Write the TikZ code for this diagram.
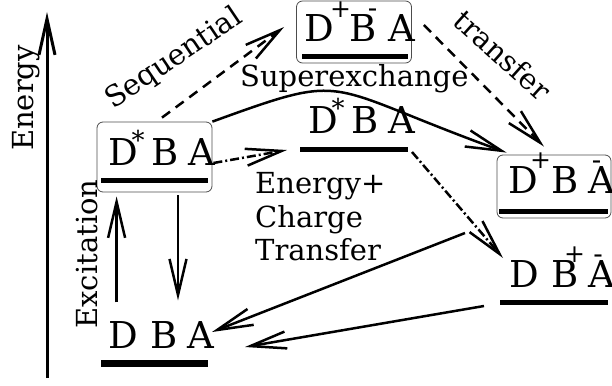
\documentclass[tikz,border=0pt]{standalone}
\usepackage{fontspec}
\setmainfont{DejaVu Serif}
\usetikzlibrary{arrows.meta,calc}

\newcommand{\putat}[2]{\rlap{\hspace{#1}#2}}
\newcommand{\plusmark}{\makebox[0pt]{\raisebox{24.5pt}{\fontsize{25}{25}\selectfont +}}}
\newcommand{\minusmark}{\makebox[0pt]{\raisebox{24pt}{\fontsize{28}{28}\selectfont -}}}
\newcommand{\astmark}{\makebox[0pt]{\raisebox{16pt}{\fontsize{26}{26}\selectfont *}}}

\tikzset{
  state/.style={font=\fontsize{37}{40}\selectfont, inner sep=0pt, anchor=base west},
  lab/.style={font=\fontsize{29}{31}\selectfont, inner sep=0pt},
  box/.style={draw=black!70, line width=0.8pt, rounded corners=6pt, inner sep=0pt},
  bar/.style={line width=5pt},
  gbar/.style={line width=7pt},
  arr/.style={line width=2.5pt, -{Straight Barb[length=36pt,width=17pt]}},
  axis/.style={line width=3pt, -{Straight Barb[length=36pt,width=16pt]}},
  dsh/.style={dash pattern=on 10pt off 7pt},
  dshdot/.style={dash pattern=on 9pt off 3pt on 2pt off 3pt}
}

\begin{document}
\begin{tikzpicture}[x=1pt,y=-1pt]
\useasboundingbox (0,0) rectangle (612,385);

% energy axis
\coordinate (axb) at (47,378);
\coordinate (axt) at (47,12);
\draw[axis] (axb) -- (axt);
\node[lab, rotate=90, anchor=base] (energy) at (33,98) {Energy};

% boxes
\node[box, minimum width=115pt, minimum height=70pt] (s1) at (154.5,157) {};
\node[box, minimum width=115pt, minimum height=62pt] (s2) at (354,32) {};
\node[box, minimum width=114pt, minimum height=63pt] (s3) at (554,186.5) {};

% state texts
\node[state] (t1) at (108,165) {\putat{0pt}{D}\putat{29.5pt}{\astmark}\putat{42.5pt}{B}\putat{79.5pt}{A}\hspace{106pt}};
\node[state] (tm) at (308,133) {\putat{0pt}{D}\putat{29.5pt}{\astmark}\putat{43pt}{B}\putat{79.5pt}{A}\hspace{106pt}};
\node[state] (t2) at (304,42) {\putat{0pt}{D}\putat{36pt}{\plusmark}\putat{45pt}{B}\putat{68pt}{\minusmark}\putat{84pt}{A}\hspace{110pt}};
\node[state] (t3) at (508,193) {\putat{0pt}{D}\putat{32pt}{\plusmark}\putat{43pt}{B}\putat{80pt}{A}\putat{88pt}{\minusmark}\hspace{106pt}};
\node[state] (t4) at (509,287) {\putat{0pt}{D}\putat{42pt}{B}\putat{65pt}{\plusmark}\putat{79pt}{A}\putat{88.5pt}{\minusmark}\hspace{106pt}};
\node[state] (t0) at (108,348) {\putat{0pt}{D}\putat{42pt}{B}\putat{79pt}{A}\hspace{106pt}};

% level bars
\draw[bar] (101,180) -- (208,180);
\draw[bar] (300,149) -- (408,149);
\draw[bar] (302,57) -- (408,57);
\draw[bar] (499,211) -- (608,211);
\draw[bar] (500,302) -- (608,302);
\draw[gbar] (101,363) -- (208,363);

% labels
\node[lab, rotate=34] (seq) at (174,59) {Sequential};
\node[lab, rotate=-42] (trf) at (503,55) {transfer};
\node[lab, anchor=base west] (sup) at (240,87) {Superexchange};
\node[lab, anchor=base west] (c1) at (255,193) {Energy+};
\node[lab, anchor=base west] (c2) at (255,227) {Charge};
\node[lab, anchor=base west] (c3) at (255,260) {Transfer};
\node[lab, rotate=90, anchor=base] (exc) at (97,254) {Excitation};

% connectors
\draw[arr] ($(s1.south west)+(20,110)$) -- ($(s1.south west)+(20,4)$);
\draw[arr] ($(s1.south)+(23.5,3)$) -- ($(s1.south)+(23.5,108)$);
\draw[arr,dsh] ($(s1.north)+(7.5,-4)$) -- ($(s2.west)+(-12,-5)$);
\draw[arr,dsh] ($(s2.east)+(12,-7)$) -- ($(s3.north)+(-10,-8)$);
\draw[arr] (s1.north east) .. controls +(141,-51) and +(-188,-68) .. ($(s3.north west)+(10,-2)$);
\draw[arr,dshdot] ($(s1.east)+(1,6)$) -- ($(tm.base west)+(-21,17)$);
\draw[arr,dshdot] ($(tm.base west)+(104,19)$) -- ($(t4.base west)+(-6,-29)$);
\draw[arr] ($(t4.base west)+(-44,-54)$) -- ($(t0.base west)+(104,-16)$);
\draw[arr] ($(t4.base west)+(-25,19)$) -- ($(t0.base west)+(137,-1)$);
\end{tikzpicture}
\end{document}
